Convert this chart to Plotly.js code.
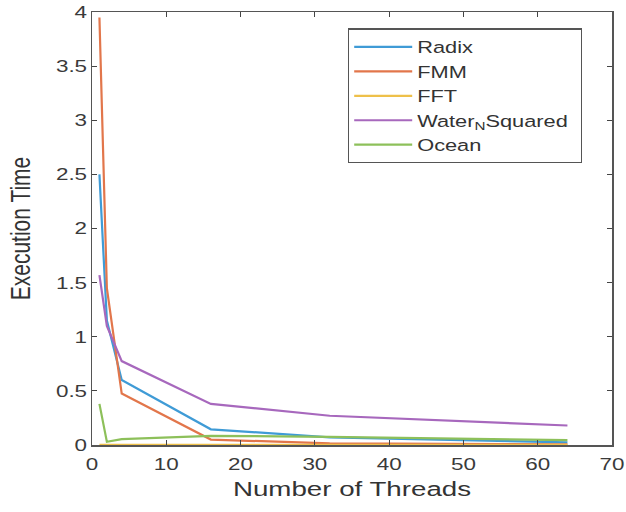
<!DOCTYPE html>
<html>
<head>
<meta charset="utf-8">
<script src="https://cdn.plot.ly/plotly-3.0.1.min.js"></script>
<style>
  html, body { margin: 0; padding: 0; background: #fff; }
  #chart { width: 626px; height: 512px; }
</style>
</head>
<body>
<div id="chart"></div>
<script>
// Thread counts on the x axis
var threads = [1, 2, 4, 16, 32, 64];

// Execution time per benchmark
var radix = [2.5, 1.15, 0.6, 0.145, 0.071, 0.025];
var fmm = [3.95, 1.45, 0.475, 0.05, 0.015, 0.005];
var fft = [0.002, 0.001, 0.001, 0.001, 0.001, 0.001];
var waterSquared = [1.57, 1.1, 0.775, 0.38, 0.27, 0.18];
var ocean = [0.38, 0.03, 0.055, 0.085, 0.075, 0.045];

var seriesNames = ['Radix', 'FMM', 'FFT', 'Water<sub>N</sub>Squared', 'Ocean'];
var seriesValues = [radix, fmm, fft, waterSquared, ocean];
var seriesColors = ['#3f9bd6', '#e2764b', '#eec04a', '#a768bd', '#8dc05a'];

var traces = seriesValues.map(function (vals, i) {
  return {
    type: 'scatter',
    mode: 'lines',
    x: threads,
    y: vals,
    name: seriesNames[i],
    line: { color: seriesColors[i], width: 2.2 }
  };
});

var axisCommon = {
  showgrid: false,
  zeroline: false,
  showline: true,
  linecolor: '#555',
  linewidth: 1.5,
  mirror: 'ticks',
  ticks: 'inside',
  ticklen: 5,
  tickwidth: 1,
  tickcolor: '#444',
  tickfont: { size: 17, color: '#3a3a3a' }
};

var layout = {
  width: 626,
  height: 512,
  margin: { l: 92, r: 14, t: 12, b: 67 },
  paper_bgcolor: '#ffffff',
  plot_bgcolor: '#ffffff',
  font: { family: 'Liberation Sans, Arial, sans-serif', color: '#333' },
  xaxis: Object.assign({}, axisCommon, {
    range: [0, 70],
    tick0: 0,
    dtick: 10,
    ticklabelstandoff: 3,
    title: { text: 'Number of Threads', standoff: 8, font: { size: 21, color: '#333' } }
  }),
  yaxis: Object.assign({}, axisCommon, {
    range: [0, 4],
    tick0: 0,
    dtick: 0.5,
    title: { text: 'Execution Time', standoff: 27, font: { size: 21, color: '#333' } }
  }),
  legend: {
    x: 0.4923,
    y: 0.962,
    xanchor: 'left',
    yanchor: 'top',
    bgcolor: '#ffffff',
    bordercolor: '#555',
    borderwidth: 1.2,
    itemwidth: 58,
    font: { size: 16.5, color: '#333' }
  },
  showlegend: true
};

// Widen every label horizontally around its anchor point
function widenText(root, s) {
  root.querySelectorAll('text').forEach(function (t) {
    var x = parseFloat(t.getAttribute('x')) || 0;
    var y = parseFloat(t.getAttribute('y')) || 0;
    var base = t.getAttribute('transform') || '';
    var px = x, py = y;
    var m = t.transform.baseVal.consolidate();
    if (m) {
      var mm = m.matrix;
      px = mm.a * x + mm.c * y + mm.e;
      py = mm.b * x + mm.d * y + mm.f;
    }
    t.setAttribute('transform',
      'translate(' + px + ',' + py + ') scale(' + s + ',1) translate(' + (-px) + ',' + (-py) + ') ' + base);
  });
}

// Grow the legend frame to enclose the widened entries
function fitLegend(gd) {
  var leg = gd.querySelector('.legend');
  if (!leg) return;
  var bg = leg.querySelector('rect.bg');
  var left = bg.getBoundingClientRect().left;
  var right = 0;
  leg.querySelectorAll('text.legendtext').forEach(function (t) {
    right = Math.max(right, t.getBoundingClientRect().right);
  });
  var w = right - left + 14;
  bg.setAttribute('width', w);
  gd.querySelectorAll('clipPath[id^="legend"] rect').forEach(function (r) {
    r.setAttribute('width', w);
  });
}

Plotly.newPlot('chart', traces, layout, { staticPlot: true }).then(function (gd) {
  widenText(gd, 1.32);
  fitLegend(gd);
});
</script>
</body>
</html>
